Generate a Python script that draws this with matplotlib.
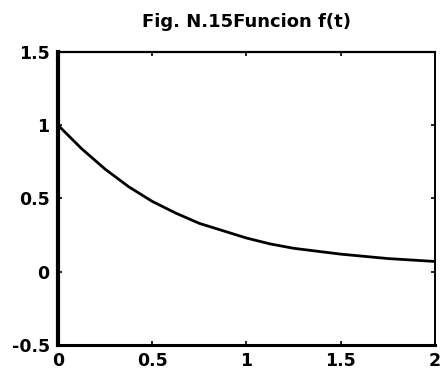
import matplotlib
matplotlib.use("Agg")
import matplotlib.pyplot as plt

t = [0.0, 0.125, 0.25, 0.375, 0.5, 0.625, 0.75, 0.875, 1.0, 1.125, 1.25, 1.375, 1.5, 1.625, 1.75, 1.875, 2.0]
f = [1.0, 0.84, 0.70, 0.58, 0.48, 0.40, 0.33, 0.28, 0.23, 0.19, 0.16, 0.14, 0.12, 0.105, 0.09, 0.08, 0.07]
xticks = [0, 0.5, 1, 1.5, 2]
xticklabels = ["0", "0.5", "1", "1.5", "2"]
yticks = [-0.5, 0, 0.5, 1, 1.5]
yticklabels = ["-0.5", "0", "0.5", "1", "1.5"]
title = "Fig. N.15Funcion f(t)"

fig = plt.figure(figsize=(4.46, 3.73), dpi=100)
ax = fig.add_axes([0.130, 0.075, 0.845, 0.786])
ax.plot(t, f, color="black", linewidth=2.0)
ax.set_xlim(0, 2)
ax.set_ylim(-0.5, 1.5)
ax.set_xticks(xticks)
ax.set_xticklabels(xticklabels, fontsize=12.5, fontweight="bold")
ax.set_yticks(yticks)
ax.set_yticklabels(yticklabels, fontsize=12.5, fontweight="bold")
ax.tick_params(axis="x", direction="in", length=3, width=1.2, pad=5, top=True)
ax.tick_params(axis="y", direction="in", length=3, width=1.2, pad=6, right=True)
for side, lw in [("left", 3.0), ("bottom", 2.2), ("top", 1.6), ("right", 1.4)]:
    ax.spines[side].set_linewidth(lw)
ax.set_title(title, fontsize=13, fontweight="bold", pad=18, x=0.5)
fig.savefig("out.png", dpi=100)
